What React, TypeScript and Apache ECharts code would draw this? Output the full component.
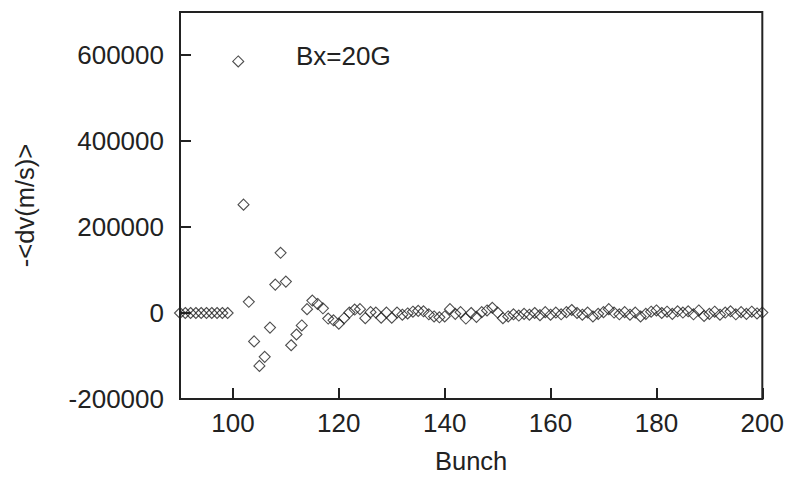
import React, { useEffect, useRef } from "react";
import * as echarts from "echarts";

const bunches: number[] = [
  90, 91, 92, 93, 94, 95, 96, 97, 98, 99,
  101, 102, 103, 104, 105, 106, 107, 108, 109, 110,
  111, 112, 113, 114, 115, 116, 117, 118, 119, 120,
  121, 122, 123, 124, 125, 126, 127, 128, 129, 130,
  131, 132, 133, 134, 135, 136, 137, 138, 139, 140,
  141, 142, 143, 144, 145, 146, 147, 148, 149, 150,
  151, 152, 153, 154, 155, 156, 157, 158, 159, 160,
  161, 162, 163, 164, 165, 166, 167, 168, 169, 170,
  171, 172, 173, 174, 175, 176, 177, 178, 179, 180,
  181, 182, 183, 184, 185, 186, 187, 188, 189, 190,
  191, 192, 193, 194, 195, 196, 197, 198, 199, 200,
];

const dvValues: number[] = [
  0, 0, 0, 0, 0, 0, 0, 0, 0, 0,
  585000, 252000, 26000, -66000, -123000, -102000, -34000, 66000, 140000, 73000,
  -75000, -50000, -29000, 9000, 29000, 21000, 11000, -13000, -17000, -25000,
  -12000, 1000, 8000, 9000, -12000, 2000, 1000, -11000, 1000, -11000,
  1000, -4000, -1000, 3000, 5000, 4000, -3000, -8000, -10000, -8000,
  9000, -2000, 2000, -13000, 0, -9000, 2000, 6000, 12000, 1000,
  -12000, -8000, -3000, -6000, -2000, -4000, 0, -5000, 2000, -4000,
  1000, -3000, 2000, 7000, 0, -4000, 1000, -8000, -2000, 2000,
  9000, 1000, -3000, 2000, -4000, 1000, -8000, -2000, 3000, 6000,
  0, 3000, -2000, 4000, 1000, 4000, -3000, 6000, -7000, -2000,
  3000, -4000, 1000, 4000, -3000, 2000, -2000, 3000, -1000, 1000,
];

const xTicks: number[] = [100, 120, 140, 160, 180, 200];
const yTicks: number[] = [-200000, 0, 200000, 400000, 600000];
const seriesName = "Bx=20G";

const FONT = "Liberation Sans, Arial, Helvetica, sans-serif";
const INK = "#222222";

export default function App() {
  const ref = useRef<HTMLDivElement>(null);

  useEffect(() => {
    document.body.style.margin = "0";
    if (!ref.current) return;
    const chart = echarts.init(ref.current, undefined, { renderer: "svg" });
    const data = bunches.map((b, i) => [b, dvValues[i]]);
    chart.setOption({
      animation: false,
      backgroundColor: "#ffffff",
      grid: {
        left: 180,
        right: 24,
        top: 12,
        bottom: 83,
        show: true,
        borderColor: INK,
        borderWidth: 2,
        backgroundColor: "transparent",
      },
      xAxis: {
        type: "value",
        min: 90,
        max: 200,
        name: "Bunch",
        nameLocation: "middle",
        nameGap: 49,
        nameTextStyle: { fontFamily: FONT, fontSize: 25.5, color: INK },
        axisLine: { show: true, onZero: false, lineStyle: { color: INK, width: 2 } },
        axisTick: {
          show: true,
          inside: true,
          length: 11,
          customValues: xTicks,
          lineStyle: { color: INK, width: 2 },
        },
        axisLabel: {
          customValues: xTicks,
          margin: 11,
          fontFamily: FONT,
          fontSize: 26,
          color: INK,
          formatter: (v: number) => String(v),
        },
        splitLine: { show: false },
      },
      yAxis: {
        type: "value",
        min: -200000,
        max: 700000,
        name: "-<dv(m/s)>",
        nameLocation: "middle",
        nameGap: 142,
        nameRotate: 90,
        nameTextStyle: { fontFamily: FONT, fontSize: 25.5, color: INK },
        axisLine: { show: true, onZero: false, lineStyle: { color: INK, width: 2 } },
        axisTick: {
          show: true,
          inside: true,
          length: 11,
          customValues: yTicks,
          lineStyle: { color: INK, width: 2 },
        },
        axisLabel: {
          customValues: yTicks,
          margin: 16,
          fontFamily: FONT,
          fontSize: 26,
          color: INK,
          formatter: (v: number) => String(v),
        },
        splitLine: { show: false },
      },
      graphic: [
        {
          type: "text",
          left: 296,
          top: 43,
          style: {
            text: seriesName,
            fontFamily: FONT,
            fontSize: 26,
            fill: INK,
          },
        },
      ],
      series: [
        {
          name: seriesName,
          type: "scatter",
          data,
          symbol: "diamond",
          symbolSize: [11, 11],
          itemStyle: {
            color: "rgba(0,0,0,0)",
            borderColor: INK,
            borderWidth: 1.1,
          },
          clip: false,
        },
      ],
    });
    return () => chart.dispose();
  }, []);

  return <div ref={ref} style={{ width: 787, height: 482 }} />;
}
